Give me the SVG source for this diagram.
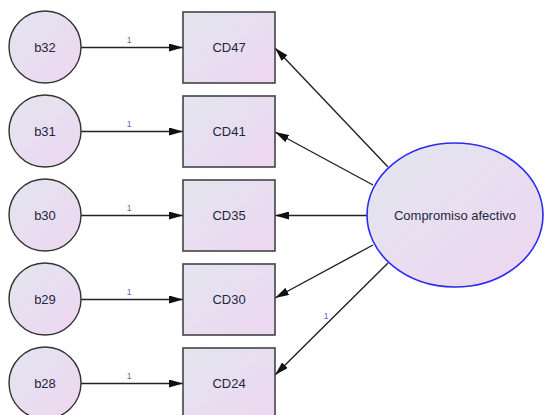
<svg xmlns="http://www.w3.org/2000/svg" width="544" height="415" viewBox="0 0 544 415">
<defs>
<linearGradient id="g" x1="0" y1="0" x2="1" y2="1">
<stop offset="0" stop-color="#e2e6ef"/>
<stop offset="1" stop-color="#eed6f1"/>
</linearGradient>
<marker id="ah" viewBox="0 0 14 8" refX="14" refY="4" markerWidth="14" markerHeight="8" markerUnits="userSpaceOnUse" orient="auto">
<path d="M0,0 L14,4 L0,8 Z" fill="#111"/>
</marker>
</defs>
<style>
.box{fill:url(#g);stroke:#444;stroke-width:1.6}
.err{fill:url(#g);stroke:#333;stroke-width:1.4}
.lat{fill:url(#g);stroke:#2a2af0;stroke-width:1.6}
.t{font-family:"Liberation Sans",Arial,sans-serif;font-size:13px;fill:#1e2640;text-anchor:middle;dominant-baseline:central}
.w{font-family:"Liberation Sans",Arial,sans-serif;font-size:8.5px;fill:#4a6fa8;text-anchor:middle}
.c{stroke:#222;stroke-width:1.4;fill:none;marker-end:url(#ah)}
</style>
<g id="connectors">
<line class="c" x1="81" y1="47.5" x2="183" y2="47.5"/>
<line class="c" x1="81" y1="131.5" x2="183" y2="131.5"/>
<line class="c" x1="81" y1="215.5" x2="183" y2="215.5"/>
<line class="c" x1="81" y1="299.5" x2="183" y2="299.5"/>
<line class="c" x1="81" y1="383.5" x2="183" y2="383.5"/>
<line class="c" x1="388" y1="167" x2="275" y2="48"/>
<line class="c" x1="373" y1="185" x2="275" y2="132"/>
<line class="c" x1="367" y1="215.5" x2="275" y2="215.5"/>
<line class="c" x1="373" y1="245" x2="275" y2="298"/>
<line class="c" x1="388" y1="263" x2="275" y2="375"/>
<text class="w" x="129" y="43">1</text>
<text class="w" x="129" y="127">1</text>
<text class="w" x="129" y="211">1</text>
<text class="w" x="129" y="295">1</text>
<text class="w" x="129" y="379">1</text>
<text class="w" x="326" y="319">1</text>
</g>
<g id="b32"><circle class="err" cx="45" cy="47" r="36"/><text class="t" x="45" y="47">b32</text></g>
<g id="b31"><circle class="err" cx="45" cy="131" r="36"/><text class="t" x="45" y="131">b31</text></g>
<g id="b30"><circle class="err" cx="45" cy="215" r="36"/><text class="t" x="45" y="215">b30</text></g>
<g id="b29"><circle class="err" cx="45" cy="299" r="36"/><text class="t" x="45" y="299">b29</text></g>
<g id="b28"><circle class="err" cx="45" cy="383" r="36"/><text class="t" x="45" y="383">b28</text></g>
<g id="CD47"><rect class="box" x="183" y="12" width="92" height="71"/><text class="t" x="229" y="47.5">CD47</text></g>
<g id="CD41"><rect class="box" x="183" y="96" width="92" height="71"/><text class="t" x="229" y="131.5">CD41</text></g>
<g id="CD35"><rect class="box" x="183" y="180" width="92" height="71"/><text class="t" x="229" y="215.5">CD35</text></g>
<g id="CD30"><rect class="box" x="183" y="264" width="92" height="71"/><text class="t" x="229" y="299.5">CD30</text></g>
<g id="CD24"><rect class="box" x="183" y="348" width="92" height="71"/><text class="t" x="229" y="383.5">CD24</text></g>
<g id="Compromiso_afectivo"><ellipse class="lat" cx="455" cy="215" rx="88" ry="72"/><text class="t" x="455" y="215">Compromiso afectivo</text></g>
</svg>
